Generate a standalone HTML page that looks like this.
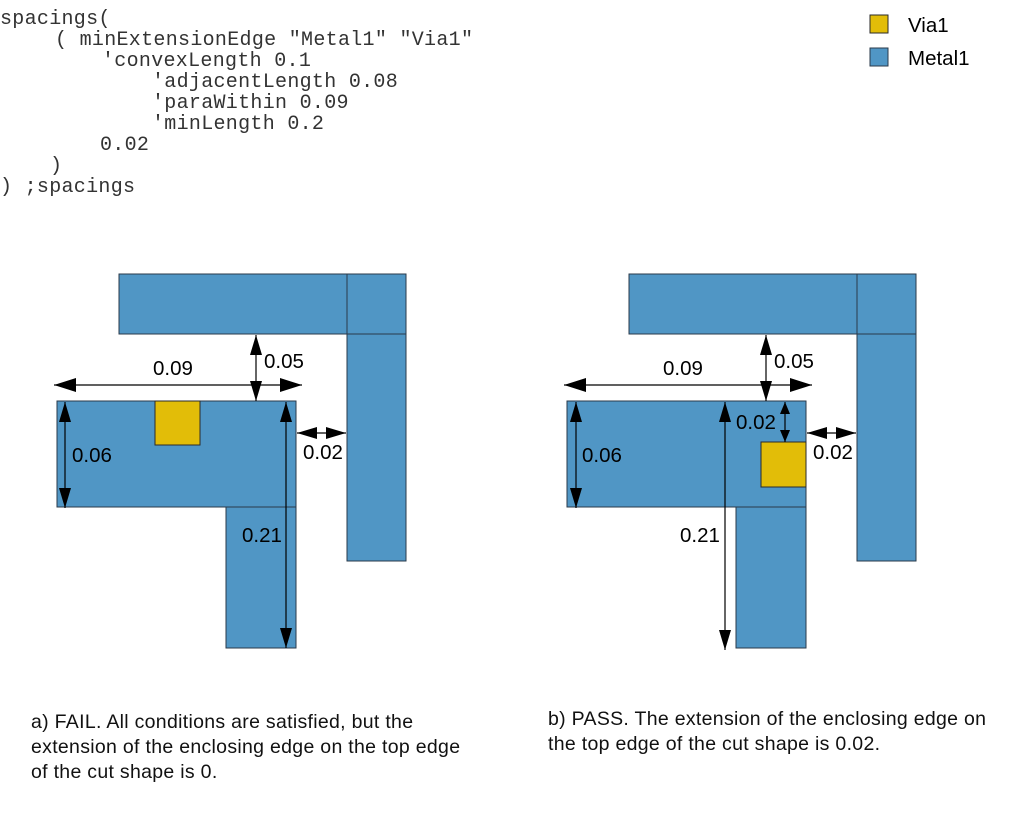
<!DOCTYPE html>
<html><head><meta charset="utf-8"><style>
body{margin:0;background:#fff;width:1013px;height:837px;overflow:hidden;position:relative}
.c{position:absolute;font-family:"Liberation Mono",monospace;font-size:20px;letter-spacing:0.3px;color:#333;white-space:pre;line-height:20px;-webkit-text-stroke:0}
.cap{position:absolute;font-family:"Liberation Sans",sans-serif;font-size:19.5px;letter-spacing:0.3px;color:#111;line-height:25px;white-space:nowrap}
</style></head><body>
<div class="c" style="left:0;top:10px">spacings(</div>
<div class="c" style="left:55px;top:31px">( minExtensionEdge "Metal1" "Via1"</div>
<div class="c" style="left:102px;top:52px">'convexLength 0.1</div>
<div class="c" style="left:152px;top:73px">'adjacentLength 0.08</div>
<div class="c" style="left:152px;top:94px">'paraWithin 0.09</div>
<div class="c" style="left:152px;top:115px">'minLength 0.2</div>
<div class="c" style="left:100px;top:136px">0.02</div>
<div class="c" style="left:50px;top:157px">)</div>
<div class="c" style="left:0;top:178px">) ;spacings</div>

<svg width="1013" height="837" style="position:absolute;left:0;top:0" font-family="Liberation Sans, sans-serif" font-size="20.5">
<defs>
<marker id="a" markerWidth="12" markerHeight="10" refX="12" refY="5" orient="auto-start-reverse" markerUnits="userSpaceOnUse" viewBox="0 0 12 10"><path d="M0,0L12,5L0,10z" fill="#000"/></marker>
<marker id="b" markerWidth="22" markerHeight="14" refX="22" refY="7" orient="auto-start-reverse" markerUnits="userSpaceOnUse" viewBox="0 0 22 14"><path d="M0,0L22,7L0,14z" fill="#000"/></marker>
<marker id="s" markerWidth="20" markerHeight="12" refX="20" refY="6" orient="auto-start-reverse" markerUnits="userSpaceOnUse" viewBox="0 0 20 12"><path d="M0,0L20,6L0,12z" fill="#000"/></marker>
</defs>
<g fill="#5096c5" stroke="#2a3a4a" stroke-width="1">
<rect x="870" y="48" width="18" height="18"/>
<rect x="119" y="274" width="228" height="60"/>
<rect x="347" y="274" width="59" height="60"/>
<rect x="347" y="334" width="59" height="227"/>
<rect x="57" y="401" width="239" height="106"/>
<rect x="226" y="507" width="70" height="141"/>
<rect x="629" y="274" width="228" height="60"/>
<rect x="857" y="274" width="59" height="60"/>
<rect x="857" y="334" width="59" height="227"/>
<rect x="567" y="401" width="239" height="106"/>
<rect x="736" y="507" width="70" height="141"/>
</g>
<g fill="#e2bd08" stroke="#2a2a2a" stroke-width="1">
<rect x="870" y="15" width="18" height="18"/>
<rect x="155" y="401" width="45" height="44"/>
<rect x="761" y="442" width="45" height="45"/>
</g>
<text x="908" y="32">Via1</text>
<text x="908" y="65">Metal1</text>
<g stroke="#000" stroke-width="1.2" fill="none">
<line x1="54" y1="385" x2="302" y2="385" marker-start="url(#b)" marker-end="url(#b)"/>
<line x1="256" y1="335" x2="256" y2="401" marker-start="url(#s)" marker-end="url(#s)"/>
<line x1="65" y1="402" x2="65" y2="508" marker-start="url(#s)" marker-end="url(#s)"/>
<line x1="286" y1="402" x2="286" y2="648" marker-start="url(#s)" marker-end="url(#s)"/>
<line x1="297" y1="433" x2="346" y2="433" marker-start="url(#s)" marker-end="url(#s)"/>
<line x1="564" y1="385" x2="812" y2="385" marker-start="url(#b)" marker-end="url(#b)"/>
<line x1="766" y1="335" x2="766" y2="401" marker-start="url(#s)" marker-end="url(#s)"/>
<line x1="576" y1="402" x2="576" y2="508" marker-start="url(#s)" marker-end="url(#s)"/>
<line x1="725" y1="402" x2="725" y2="650" marker-start="url(#s)" marker-end="url(#s)"/>
<line x1="785" y1="402" x2="785" y2="442" marker-start="url(#a)" marker-end="url(#a)"/>
<line x1="807" y1="433" x2="856" y2="433" marker-start="url(#s)" marker-end="url(#s)"/>
</g>
<g fill="#000">
<text x="153" y="375">0.09</text>
<text x="264" y="368">0.05</text>
<text x="72" y="462">0.06</text>
<text x="242" y="542">0.21</text>
<text x="303" y="459">0.02</text>
<text x="663" y="375">0.09</text>
<text x="774" y="368">0.05</text>
<text x="582" y="462">0.06</text>
<text x="680" y="542">0.21</text>
<text x="736" y="429">0.02</text>
<text x="813" y="459">0.02</text>
</g>
</svg>
<div class="cap" style="left:31px;top:710px">a) FAIL. All conditions are satisfied, but the<br>extension of the enclosing edge on the top edge<br>of the cut shape is 0.</div>
<div class="cap" style="left:548px;top:707px">b) PASS. The extension of the enclosing edge on<br>the top edge of the cut shape is 0.02.</div>
</body></html>
